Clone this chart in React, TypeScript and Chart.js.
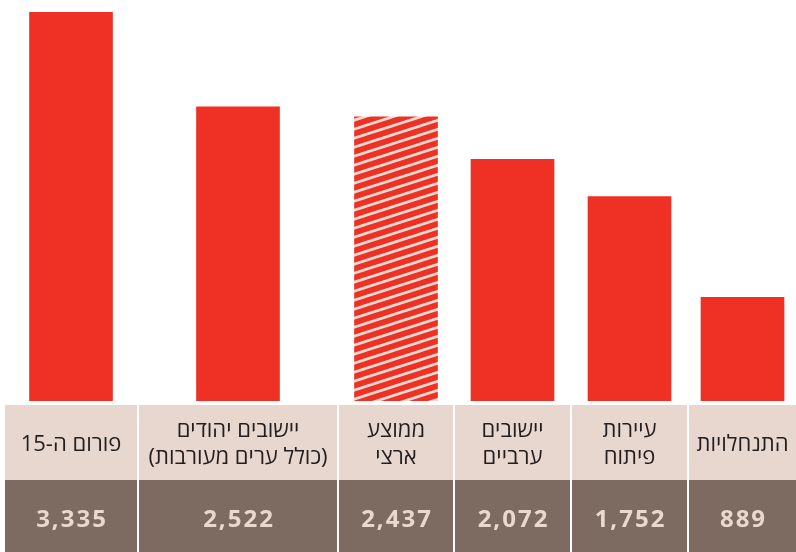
import React, { useEffect, useRef } from "react";
import { Chart, registerables } from "chart.js";

Chart.register(...registerables);

const categories: string[][] = [
  ["פורום ה-15"],
  ["יישובים יהודים", "(כולל ערים מעורבות)"],
  ["ממוצע", "ארצי"],
  ["יישובים", "ערביים"],
  ["עיירות", "פיתוח"],
  ["התנחלויות"],
];
const values: number[] = [3335, 2522, 2437, 2072, 1752, 889];
const valueLabels: string[] = ["3,335", "2,522", "2,437", "2,072", "1,752", "889"];
const hatchedIndex = 2;

// layout (pixels)
const W = 796;
const H = 552;
const colEdges = [5, 139, 339, 455, 572, 689, 798];
const gap = 2;
const headerTop = 405;
const headerBottom = 480;
const plotTop = 12;
const plotBottom = 401;

const RED = "#EE3124";
const HEADER_BG = "#E8D7CF";
const DARK_BG = "#7D6A61";
const VALUE_TEXT = "#EAD8CE";
const LABEL_TEXT = "#231F20";
const STRIPE = "#EFD9D0";

function makePattern(): CanvasPattern | string {
  const tile = document.createElement("canvas");
  const tw = 28;
  const th = 9;
  tile.width = tw;
  tile.height = th;
  const c = tile.getContext("2d");
  if (!c) return RED;
  c.fillStyle = RED;
  c.fillRect(0, 0, tw, th);
  c.strokeStyle = STRIPE;
  c.lineWidth = 2.7;
  const s = th / tw;
  for (const off of [-th, 0, th]) {
    c.beginPath();
    c.moveTo(-2, th + off + 2 * s);
    c.lineTo(tw + 2, off - 2 * s);
    c.stroke();
  }
  const p = c.createPattern(tile, "repeat");
  return p || RED;
}

const tablePlugin = {
  id: "tablePlugin",
  afterDraw(chart: any) {
    const ctx: CanvasRenderingContext2D = chart.ctx;
    ctx.save();
    for (let i = 0; i < categories.length; i++) {
      const x0 = colEdges[i];
      const x1 = colEdges[i + 1] - gap;
      const cx = (x0 + x1) / 2;
      ctx.fillStyle = HEADER_BG;
      ctx.fillRect(x0, headerTop, x1 - x0, headerBottom - headerTop);
      ctx.fillStyle = DARK_BG;
      ctx.fillRect(x0, headerBottom, x1 - x0, H - headerBottom);

      // header labels
      ctx.fillStyle = LABEL_TEXT;
      ctx.font = "22px 'Open Sans', 'DejaVu Sans', sans-serif";
      ctx.textAlign = "center";
      ctx.textBaseline = "middle";
      (ctx as any).direction = "rtl";
      (ctx as any).letterSpacing = "0px";
      const lines = categories[i];
      const lh = 27;
      const mid = (headerTop + headerBottom) / 2 + 2;
      const start = mid - ((lines.length - 1) * lh) / 2;
      lines.forEach((ln, k) => ctx.fillText(ln, cx, start + k * lh));

      // values
      (ctx as any).direction = "ltr";
      ctx.fillStyle = VALUE_TEXT;
      ctx.font = "bold 24px 'Open Sans', 'DejaVu Sans', sans-serif";
      (ctx as any).letterSpacing = "2px";
      ctx.fillText(valueLabels[i], cx + 1, (headerBottom + H) / 2 + 4);
    }
    ctx.restore();
  },
};

export default function App() {
  const ref = useRef<HTMLCanvasElement | null>(null);
  useEffect(() => {
    document.body.style.margin = "0";
    const canvas = ref.current;
    if (!canvas) return;
    const pattern = makePattern();
    const centers = categories.map((_, i) => (colEdges[i] + colEdges[i + 1] - gap) / 2);
    const chart = new Chart(canvas, {
      type: "bar",
      data: {
        datasets: [
          {
            data: values.map((v, i) => ({ x: centers[i], y: v })) as any,
            backgroundColor: values.map((_, i) => (i === hatchedIndex ? pattern : RED)) as any,
            borderWidth: 0,
            barThickness: 83,
          },
        ],
      },
      options: {
        animation: false,
        responsive: false,
        devicePixelRatio: 1,
        layout: { padding: { top: plotTop, bottom: H - plotBottom, left: 0, right: 0 } },
        scales: {
          x: { type: "linear", min: 0, max: W, offset: false, display: false },
          y: { min: 0, max: Math.max(...values), display: false },
        },
        plugins: { legend: { display: false }, tooltip: { enabled: false } },
      },
      plugins: [tablePlugin],
    });
    return () => chart.destroy();
  }, []);
  return <canvas ref={ref} width={W} height={H} style={{ display: "block" }} />;
}
